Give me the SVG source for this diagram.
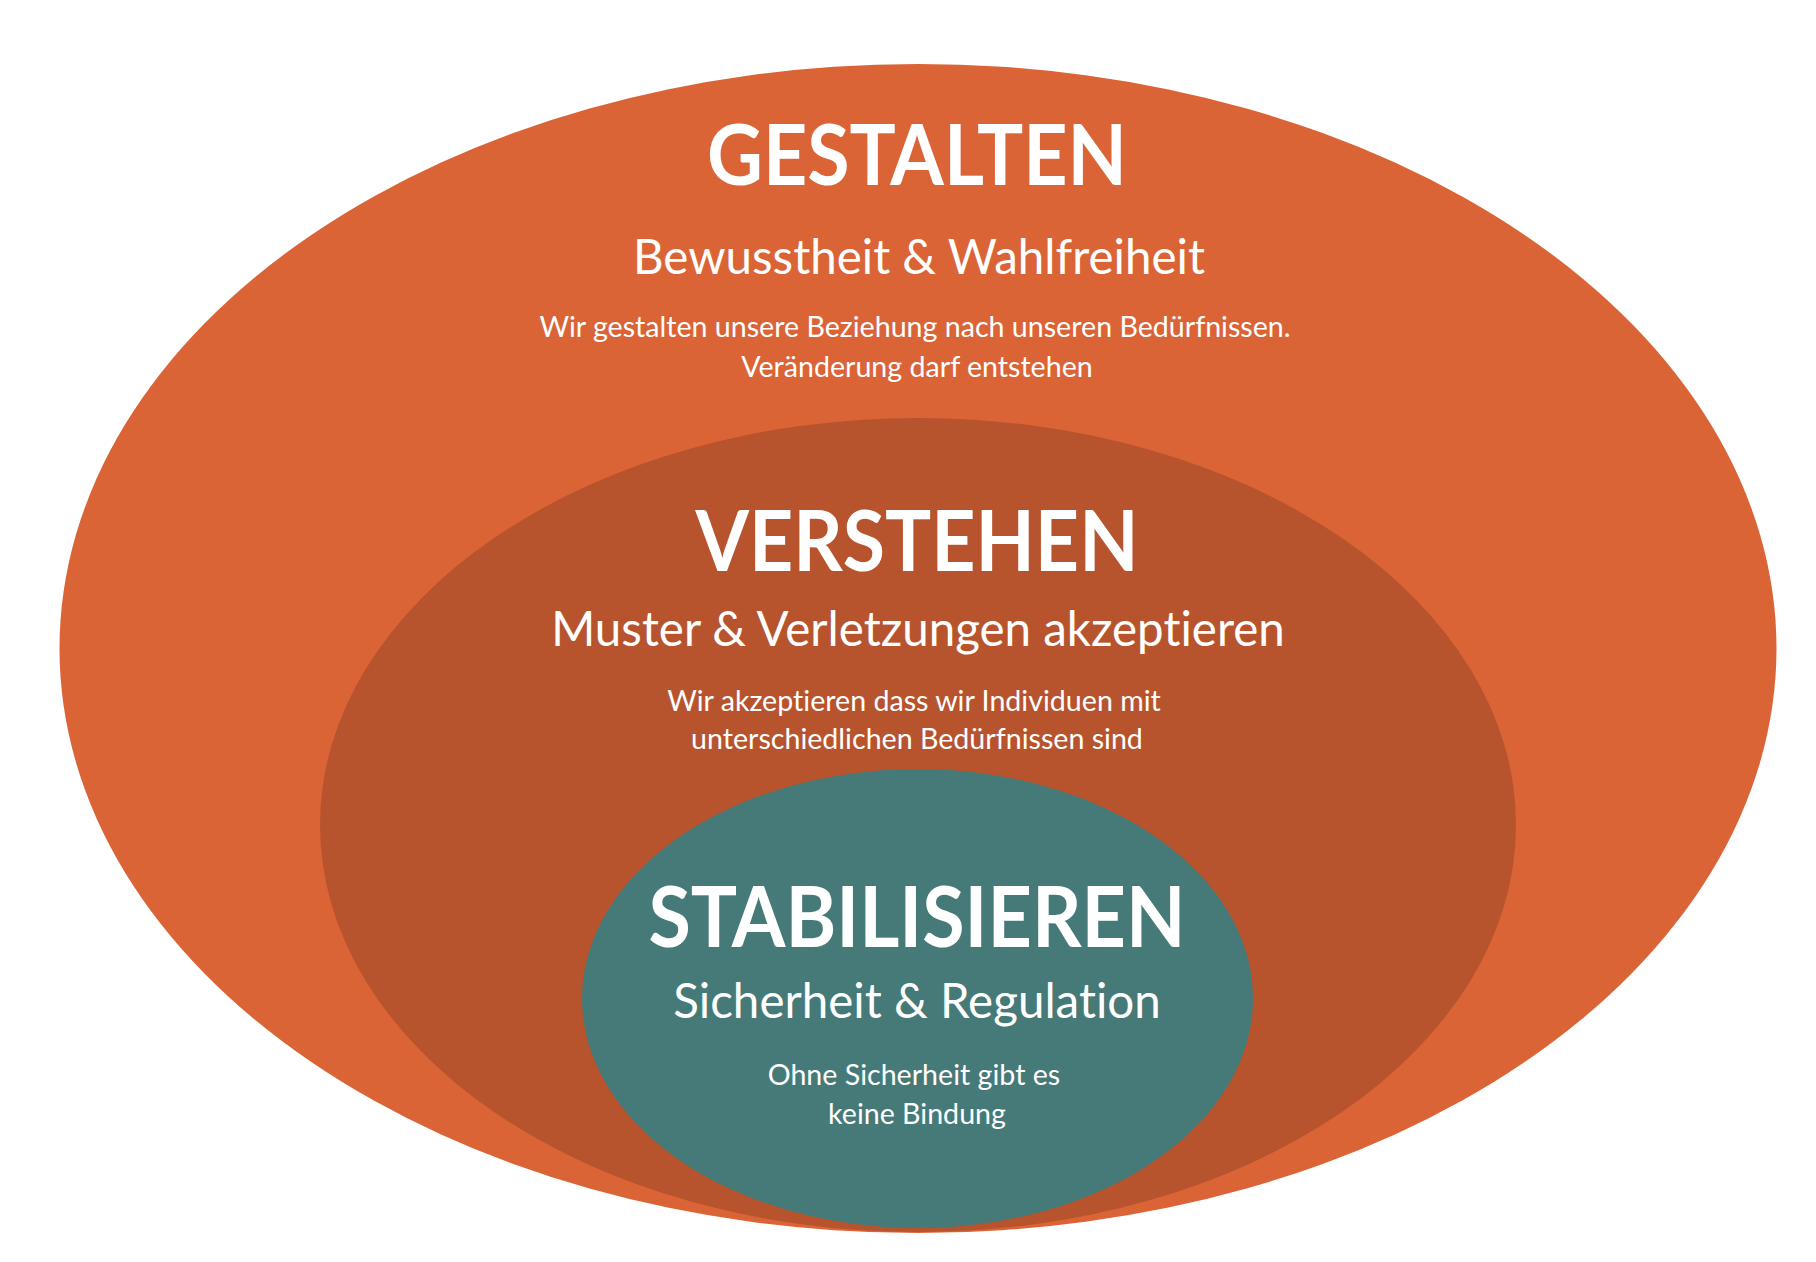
<svg xmlns="http://www.w3.org/2000/svg" width="1816" height="1262" viewBox="0 0 1816 1262">
  <style>
    text { font-family: Lato, "Open Sans", "Liberation Sans", sans-serif; fill: #ffffff; text-anchor: middle; font-variant-ligatures: none; font-feature-settings: "liga" 0, "dlig" 0; }
    .title { font-weight: 700; font-size: 84px; }
    .sub { font-weight: 400; font-size: 47.5px; }
    .desc { font-weight: 400; font-size: 28.6px; }
  </style>
  <rect x="0" y="0" width="1816" height="1262" fill="#ffffff"/>
  <g id="gestalten">
    <ellipse cx="918" cy="648.5" rx="858.5" ry="584.5" fill="#DB6436"/>
    <text class="title" x="917" y="185" textLength="420" lengthAdjust="spacingAndGlyphs">GESTALTEN</text>
    <text class="sub" x="919" y="274">Bewusstheit &amp; Wahlfreiheit</text>
    <text class="desc" x="915" y="337">Wir gestalten unsere Beziehung nach unseren Bedürfnissen.</text>
    <text class="desc" x="917" y="376.5">Veränderung darf entstehen</text>
  </g>
  <g id="verstehen">
    <ellipse cx="918" cy="825" rx="598" ry="407" fill="#B7542D"/>
    <text class="title" x="917" y="571" textLength="443" lengthAdjust="spacingAndGlyphs">VERSTEHEN</text>
    <text class="sub" x="918" y="646">Muster &amp; Verletzungen akzeptieren</text>
    <text class="desc" x="914" y="711">Wir akzeptieren dass wir Individuen mit</text>
    <text class="desc" x="917" y="749">unterschiedlichen Bedürfnissen sind</text>
  </g>
  <g id="stabilisieren">
    <ellipse cx="917.5" cy="998.5" rx="335.5" ry="229.5" fill="#457A78"/>
    <text class="title" x="917" y="947" textLength="537" lengthAdjust="spacingAndGlyphs">STABILISIEREN</text>
    <text class="sub" x="917" y="1018">Sicherheit &amp; Regulation</text>
    <text class="desc" x="914" y="1085">Ohne Sicherheit gibt es</text>
    <text class="desc" x="917" y="1124">keine Bindung</text>
  </g>
  <g id="connectors"/>
</svg>
